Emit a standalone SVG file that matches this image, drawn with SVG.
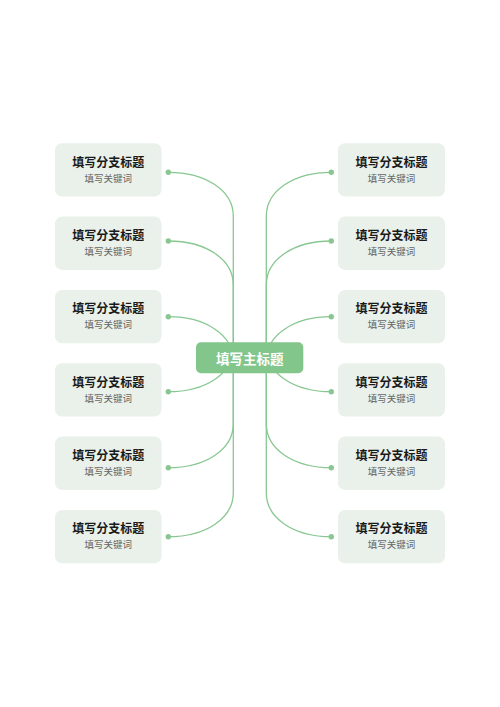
<svg xmlns="http://www.w3.org/2000/svg" width="500" height="707" viewBox="0 0 500 707">
<style>
.bg{fill:#ffffff}
.node{fill:#e9f1ea}
.title{font-family:"Noto Sans CJK SC","Noto Sans",sans-serif;font-size:12px;font-weight:700;fill:#1a1a1a;text-anchor:middle}
.sub{font-family:"Noto Sans CJK SC","Noto Sans",sans-serif;font-size:9.5px;fill:#666666;text-anchor:middle}
.link{fill:none;stroke:#88c791;stroke-width:1.3}
.dot{fill:#88c791}
.main{fill:#82c68b}
.mainText{font-family:"Noto Sans CJK SC","Noto Sans",sans-serif;font-size:13.5px;font-weight:700;fill:#ffffff;text-anchor:middle}
</style>
<rect class="bg" x="0" y="0" width="500" height="707"/>
<g id="connectors">
<path class="link" d="M233.3,357.8 V216.3 C233.3,190.3 205.3,172.3 168.3,172.3"/>
<path class="link" d="M233.3,357.8 V285 C233.3,259 205.3,241 168.3,241"/>
<path class="link" d="M233.3,360.7 C233.3,334.7 205.3,316.7 168.3,316.7"/>
<path class="link" d="M233.3,347.7 C233.3,373.7 205.3,391.7 168.3,391.7"/>
<path class="link" d="M233.3,357.8 V423.7 C233.3,449.7 205.3,467.7 168.3,467.7"/>
<path class="link" d="M233.3,357.8 V492.7 C233.3,518.7 205.3,536.7 168.3,536.7"/>
<path class="link" d="M266.3,357.8 V216.3 C266.3,190.3 294.3,172.3 331.3,172.3"/>
<path class="link" d="M266.3,357.8 V285 C266.3,259 294.3,241 331.3,241"/>
<path class="link" d="M266.3,360.7 C266.3,334.7 294.3,316.7 331.3,316.7"/>
<path class="link" d="M266.3,347.7 C266.3,373.7 294.3,391.7 331.3,391.7"/>
<path class="link" d="M266.3,357.8 V423.7 C266.3,449.7 294.3,467.7 331.3,467.7"/>
<path class="link" d="M266.3,357.8 V492.7 C266.3,518.7 294.3,536.7 331.3,536.7"/>
<circle class="dot" cx="168.3" cy="172.3" r="2.7"/>
<circle class="dot" cx="168.3" cy="241" r="2.7"/>
<circle class="dot" cx="168.3" cy="316.7" r="2.7"/>
<circle class="dot" cx="168.3" cy="391.7" r="2.7"/>
<circle class="dot" cx="168.3" cy="467.7" r="2.7"/>
<circle class="dot" cx="168.3" cy="536.7" r="2.7"/>
<circle class="dot" cx="331.3" cy="172.3" r="2.7"/>
<circle class="dot" cx="331.3" cy="241" r="2.7"/>
<circle class="dot" cx="331.3" cy="316.7" r="2.7"/>
<circle class="dot" cx="331.3" cy="391.7" r="2.7"/>
<circle class="dot" cx="331.3" cy="467.7" r="2.7"/>
<circle class="dot" cx="331.3" cy="536.7" r="2.7"/>
</g>
<g id="center">
<rect class="main" x="196" y="342.3" width="107.3" height="31" rx="5"/>
<text class="mainText" x="249.7" y="363.5">填写主标题</text>
</g>
<g id="L1"><rect class="node" x="55" y="143.3" width="106.5" height="53.3" rx="7"/><text class="title" x="108.3" y="166.5">填写分支标题</text><text class="sub" x="108.3" y="181.6">填写关键词</text></g>
<g id="L2"><rect class="node" x="55" y="216.6" width="106.5" height="53.3" rx="7"/><text class="title" x="108.3" y="239.8">填写分支标题</text><text class="sub" x="108.3" y="254.9">填写关键词</text></g>
<g id="L3"><rect class="node" x="55" y="290" width="106.5" height="53.3" rx="7"/><text class="title" x="108.3" y="313.2">填写分支标题</text><text class="sub" x="108.3" y="328.3">填写关键词</text></g>
<g id="L4"><rect class="node" x="55" y="363.3" width="106.5" height="53.3" rx="7"/><text class="title" x="108.3" y="386.5">填写分支标题</text><text class="sub" x="108.3" y="401.6">填写关键词</text></g>
<g id="L5"><rect class="node" x="55" y="436.6" width="106.5" height="53.3" rx="7"/><text class="title" x="108.3" y="459.8">填写分支标题</text><text class="sub" x="108.3" y="474.9">填写关键词</text></g>
<g id="L6"><rect class="node" x="55" y="510" width="106.5" height="53.3" rx="7"/><text class="title" x="108.3" y="533.2">填写分支标题</text><text class="sub" x="108.3" y="548.3">填写关键词</text></g>
<g id="R1"><rect class="node" x="338" y="143.3" width="107" height="53.3" rx="7"/><text class="title" x="391.5" y="166.5">填写分支标题</text><text class="sub" x="391.5" y="181.6">填写关键词</text></g>
<g id="R2"><rect class="node" x="338" y="216.6" width="107" height="53.3" rx="7"/><text class="title" x="391.5" y="239.8">填写分支标题</text><text class="sub" x="391.5" y="254.9">填写关键词</text></g>
<g id="R3"><rect class="node" x="338" y="290" width="107" height="53.3" rx="7"/><text class="title" x="391.5" y="313.2">填写分支标题</text><text class="sub" x="391.5" y="328.3">填写关键词</text></g>
<g id="R4"><rect class="node" x="338" y="363.3" width="107" height="53.3" rx="7"/><text class="title" x="391.5" y="386.5">填写分支标题</text><text class="sub" x="391.5" y="401.6">填写关键词</text></g>
<g id="R5"><rect class="node" x="338" y="436.6" width="107" height="53.3" rx="7"/><text class="title" x="391.5" y="459.8">填写分支标题</text><text class="sub" x="391.5" y="474.9">填写关键词</text></g>
<g id="R6"><rect class="node" x="338" y="510" width="107" height="53.3" rx="7"/><text class="title" x="391.5" y="533.2">填写分支标题</text><text class="sub" x="391.5" y="548.3">填写关键词</text></g>
</svg>
